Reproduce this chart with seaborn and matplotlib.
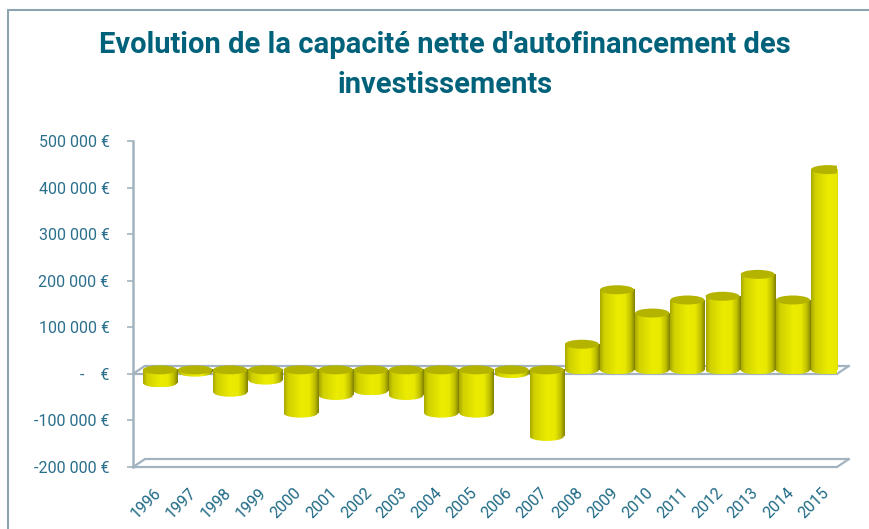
import numpy as np
import matplotlib
matplotlib.use("Agg")
import matplotlib.pyplot as plt
import matplotlib.transforms as mtransforms
from matplotlib.lines import Line2D
from matplotlib.patches import Ellipse
from matplotlib.colors import LinearSegmentedColormap
import seaborn as sns

# Data
years = ["1996", "1997", "1998", "1999", "2000", "2001", "2002", "2003", "2004", "2005",
         "2006", "2007", "2008", "2009", "2010", "2011", "2012", "2013", "2014", "2015"]
values = [-28000, -5000, -48000, -22000, -93000, -55000, -45000, -55000, -93000, -93000,
          -8000, -143000, 55000, 172000, 122000, 150000, 158000, 205000, 150000, 430000]
yticks = [-200000, -100000, 0, 100000, 200000, 300000, 400000, 500000]
ylabels = ["-200 000 €", "-100 000 €", "-    €", "100 000 €", "200 000 €",
           "300 000 €", "400 000 €", "500 000 €"]
title = "Evolution de la capacité nette d'autofinancement des\ninvestissements"

sns.set_style("white")
plt.rcParams["font.family"] = ["Roboto", "DejaVu Sans"]

line_c = "#a3b4c0"
text_c = "#2a6f8c"
cap_c = "#b3b300"
cyl_cmap = LinearSegmentedColormap.from_list(
    "cyl", [(0.0, "#a8a800"), (0.12, "#d0d000"), (0.5, "#ecec00"),
            (0.72, "#e8e800"), (0.88, "#c0c000"), (1.0, "#808000")])

fig = plt.figure(figsize=(8.69, 5.29), dpi=100)
ax = fig.add_axes([133 / 869, 62 / 529, 704 / 869, 326 / 529])

sns.barplot(x=years, y=values, color="#e8e800", width=0.97, saturation=1, ax=ax)

xlim = (-0.768, 19.255)
ylim = (-200000, 500000)
ax.set_xlim(*xlim)
ax.set_ylim(*ylim)

# bars sit at mid depth of the 3D box: lift them a few pixels
depth = ax.transData + mtransforms.ScaledTranslation(0, 4 / 100, fig.dpi_scale_trans)

# cylinder look: gradient body + elliptical caps
px_per_unit = 326 / (ylim[1] - ylim[0])
ell_h = 9 / px_per_unit
grad = np.linspace(0, 1, 256).reshape(1, -1)
for p in list(ax.patches):
    x0, w = p.get_x(), p.get_width()
    y0, h = p.get_y(), p.get_height()
    lo, hi = min(y0, y0 + h), max(y0, y0 + h)
    xc = x0 + w / 2
    p.set_facecolor("none")
    p.set_edgecolor("none")
    body = ax.imshow(grad, cmap=cyl_cmap, extent=(x0, x0 + w, lo, hi), aspect="auto", zorder=2)
    body.set_transform(depth)
    bot = Ellipse((xc, lo), w, ell_h, facecolor="none", edgecolor="none", transform=depth)
    ax.add_patch(bot)
    im = ax.imshow(grad, cmap=cyl_cmap, extent=(x0, x0 + w, lo - ell_h / 2, lo),
                   aspect="auto", zorder=2)
    im.set_transform(depth)
    im.set_clip_path(bot)
    ax.add_patch(Ellipse((xc, hi), w, ell_h, facecolor=cap_c, edgecolor="none",
                         zorder=3, transform=depth))

ax.set_xlim(*xlim)
ax.set_ylim(*ylim)

# 3D-ish walls: zero plane and floor
back = mtransforms.offset_copy(ax.get_yaxis_transform(), fig=fig, x=12, y=8, units="dots")
front = ax.get_yaxis_transform()
for yv in (0, ylim[0]):
    ax.plot([0, 1], [yv, yv], transform=front, color=line_c, lw=1.6, clip_on=False, zorder=1)
    ax.plot([0, 1], [yv, yv], transform=back, color=line_c, lw=1.6, clip_on=False, zorder=1)
    for xa in (0, 1):
        p0 = front.transform((xa, yv))
        p1 = back.transform((xa, yv))
        ax.add_line(Line2D([p0[0], p1[0]], [p0[1], p1[1]], transform=None,
                           color=line_c, lw=1.6, clip_on=False, zorder=1))

sns.despine(ax=ax, top=True, right=True, bottom=True)
ax.spines["left"].set_color(line_c)
ax.spines["left"].set_linewidth(1.8)

ax.set_yticks(yticks)
ax.set_yticklabels(ylabels)
ax.set_xlabel("")
ax.set_ylabel("")
ax.tick_params(axis="y", length=4, width=1.2, color=line_c, pad=13,
               labelsize=11.5, labelcolor=text_c, left=True)
ax.tick_params(axis="x", length=0, pad=13, labelsize=11.5, labelcolor="#1f6a85")
shift = mtransforms.ScaledTranslation(-5 / 72, 0, fig.dpi_scale_trans)
for lbl in ax.get_xticklabels():
    lbl.set_rotation(45)
    lbl.set_ha("right")
    lbl.set_va("top")
    lbl.set_rotation_mode("anchor")
    lbl.set_transform(lbl.get_transform() + shift)

# outer frame of the chart area
fig.add_artist(Line2D([8 / 869, 1], [1 - 10 / 529, 1 - 10 / 529], transform=fig.transFigure,
                      color="#8ea3b0", lw=1.5))
fig.add_artist(Line2D([8 / 869, 8 / 869], [0, 1 - 10 / 529], transform=fig.transFigure,
                      color="#8ea3b0", lw=1.5))

fig.text(445 / 869, 1 - 31 / 529, title, ha="center", va="top", fontsize=21,
         fontweight="bold", color="#00627a", linespacing=1.55)

fig.savefig("out.png", dpi=100)
